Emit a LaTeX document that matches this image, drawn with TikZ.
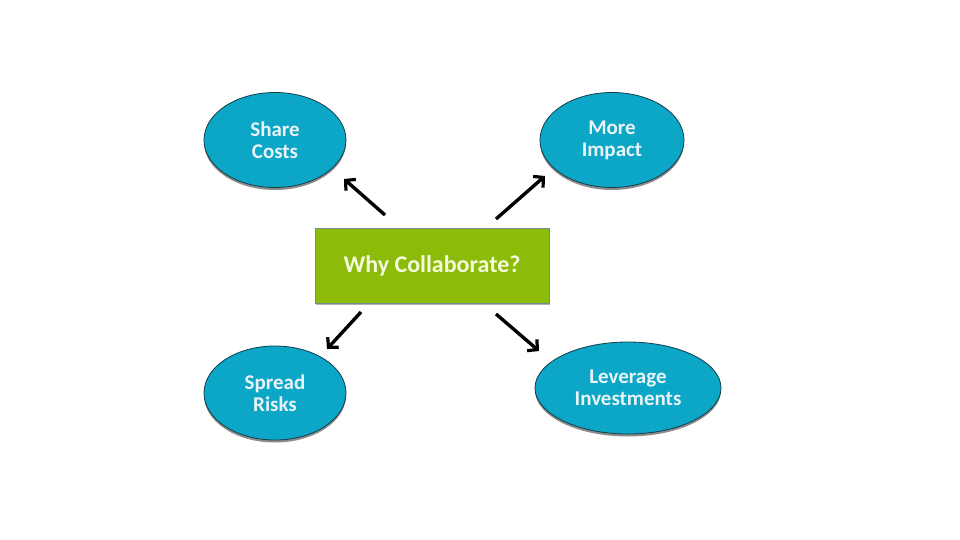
\documentclass[tikz,border=0pt]{standalone}
\usepackage{fontspec}
\setmainfont{Carlito}
\usetikzlibrary{arrows.meta,shadows,shapes.geometric}
\definecolor{ellfill}{RGB}{12,166,198}
\definecolor{elldraw}{RGB}{20,60,75}
\definecolor{elltext}{RGB}{232,244,248}
\definecolor{boxfill}{RGB}{141,187,10}
\definecolor{boxdraw}{RGB}{110,140,150}
\definecolor{boxtext}{RGB}{244,250,220}
\tikzset{
  bubble/.style={ellipse, draw=elldraw, line width=0.8pt, fill=ellfill,
    inner sep=0pt, text=elltext, font=\fontsize{21}{22}\selectfont\bfseries, align=center,
    drop shadow={shadow xshift=0pt, shadow yshift=-2.5pt, opacity=0.45, fill=black}},
  centerbox/.style={rectangle, draw=boxdraw, line width=0.8pt, fill=boxfill,
    minimum width=234pt, minimum height=75pt, inner sep=0pt, text=boxtext,
    font=\fontsize{24}{28}\selectfont\bfseries,
    drop shadow={shadow xshift=1pt, shadow yshift=-2pt, opacity=0.3, fill=black}},
  arr/.style={line width=3.4pt, -{Straight Barb[length=7pt,width=15pt,line width=3.2pt]}}
}
\begin{document}
\begin{tikzpicture}[x=1pt,y=-1pt]
\useasboundingbox[fill=white] (0,0) rectangle (960,540);
\node[bubble, minimum width=142pt, minimum height=95pt] (share) at (275,140) {Share\\Costs};
\node[bubble, minimum width=144pt, minimum height=95pt] (impact) at (612,140) {More\\Impact};
\node[bubble, minimum width=142pt, minimum height=94pt] (spread) at (275,393) {Spread\\Risks};
\node[bubble, minimum width=186pt, minimum height=92pt] (leverage) at (628,388) {Leverage\\Investments};
\node[centerbox] (why) at (432,265.5) {Why Collaborate?};
\coordinate (s1) at (385,215); \coordinate (s2) at (344,179);
\coordinate (i1) at (496,219); \coordinate (i2) at (545,176);
\coordinate (r1) at (361,312); \coordinate (r2) at (327,349);
\coordinate (l1) at (496,314); \coordinate (l2) at (539,351);
\draw[arr] (s1) -- (s2);
\draw[arr] (i1) -- (i2);
\draw[arr] (r1) -- (r2);
\draw[arr] (l1) -- (l2);
\end{tikzpicture}
\end{document}
